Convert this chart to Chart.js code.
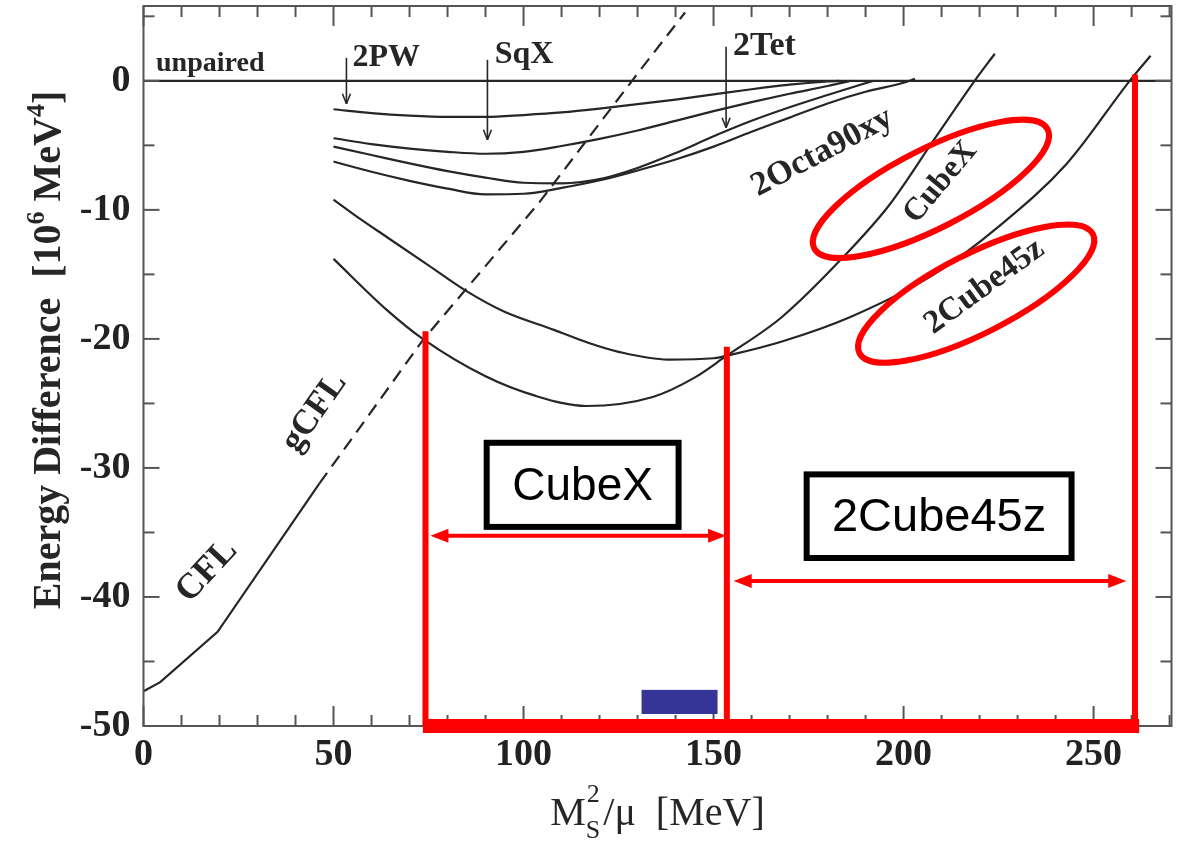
<!DOCTYPE html>
<html>
<head>
<meta charset="utf-8">
<script src="https://cdn.jsdelivr.net/npm/chart.js@4.4.1/dist/chart.umd.min.js"></script>
<style>
  html, body { margin: 0; padding: 0; background: #fff; }
</style>
</head>
<body>
<canvas id="grafico" width="1181" height="841"></canvas>
<script>
// valores: x em MeV (M_s^2/mu), y em 10^6 MeV^4
const unpairedX = [0, 270.5];
const unpairedY = [0, 0];

const cflX = [0, 4.4, 19.5, 46.3];
const cflY = [-47.3, -46.6, -42.7, -31.2];

const gcflX = [46.3, 73.5, 104.2, 130.1, 142.5];
const gcflY = [-31.2, -20.1, -9.4, 0.6, 5.3];

const pw2X = [50, 60, 70, 80, 90, 100, 110, 120, 130, 140, 150, 160, 170, 180, 183];
const pw2Y = [-2.2, -2.5, -2.7, -2.8, -2.8, -2.65, -2.45, -2.15, -1.8, -1.45, -1.05, -0.65, -0.3, -0.05, 0];

const sqxX = [50, 60, 70, 80, 90, 100, 110, 120, 130, 140, 150, 160, 170, 180, 186];
const sqxY = [-4.45, -4.9, -5.25, -5.5, -5.65, -5.5, -5.05, -4.5, -3.85, -3.1, -2.35, -1.65, -1.0, -0.4, 0];

const tetX = [50, 60, 70, 80, 90, 100, 110, 121, 130, 140, 150, 160, 170, 180, 192];
const tetY = [-5.1, -5.75, -6.4, -7.0, -7.5, -7.9, -7.95, -7.55, -6.75, -5.6, -4.3, -3.1, -2.05, -1.1, 0];

const octaX = [50, 60, 70, 80, 90, 100, 110, 121, 130, 140, 150, 160, 170, 180, 190, 200, 203];
const octaY = [-6.25, -7.05, -7.75, -8.35, -8.8, -8.75, -8.3, -7.65, -6.95, -6.1, -5.1, -3.95, -2.85, -1.75, -0.85, -0.15, 0.15];

const cube45X = [50, 57, 64, 75, 85, 95, 108, 117, 125, 138, 150, 155, 168, 186, 208, 225, 243, 259.5, 265];
const cube45Y = [-9.2, -10.7, -12.1, -14.3, -16.3, -17.9, -19.3, -20.3, -21.0, -21.6, -21.5, -21.2, -20.2, -18.3, -15.0, -11.3, -6.4, 0, 1.95];

const cubeXX = [50, 64, 73.5, 90, 103, 116.5, 134, 145, 153, 168, 184, 196.3, 207.7, 218.7, 224];
const cubeXY = [-13.8, -17.75, -20.0, -22.9, -24.4, -25.2, -24.5, -23.0, -21.4, -18.3, -13.7, -9.6, -4.7, 0, 2.1];

// eixos
const ticksX = [0, 50, 100, 150, 200, 250];
const menoresX = [10, 20, 30, 40, 60, 70, 80, 90, 110, 120, 130, 140, 160, 170, 180, 190, 210, 220, 230, 240, 260, 270];
const ticksY = [-50, -40, -30, -20, -10, 0];
const menoresY = [-45, -35, -25, -15, -5, 5];

// marcas em vermelho (anotacao por cima do grafico)
const linhasVermX = [74.2, 153.5, 260.9];
const linhasVermTopo = [-19.4, -20.6, 0.5];
const setaCubeX = [75.5, 153.3, -35.25];
const setaCube45 = [155.3, 258.6, -38.76];

const cor = "#262626";
const fonteSerif = '"Liberation Serif", "DejaVu Serif", serif';

function serie(xs, ys) {
  return xs.map((x, i) => ({ x: x, y: ys[i] }));
}

function curva(xs, ys, extra) {
  return Object.assign({
    data: serie(xs, ys),
    borderColor: cor,
    borderWidth: 2.2,
    pointRadius: 0,
    cubicInterpolationMode: "monotone",
    fill: false
  }, extra || {});
}

function texto(ctx, str, x, y, ang, tam, alinhar) {
  ctx.save();
  ctx.translate(x, y);
  ctx.rotate(ang * Math.PI / 180);
  ctx.font = "bold " + tam + "px " + fonteSerif;
  ctx.fillStyle = cor;
  ctx.textAlign = alinhar || "center";
  ctx.textBaseline = alinhar ? "alphabetic" : "middle";
  ctx.fillText(str, 0, 0);
  ctx.restore();
}

function linha(ctx, x1, y1, x2, y2) {
  ctx.beginPath();
  ctx.moveTo(x1, y1);
  ctx.lineTo(x2, y2);
  ctx.stroke();
}

function setaPreta(ctx, x, y1, y2) {
  linha(ctx, x, y1, x, y2);
  linha(ctx, x - 4, y2 - 10, x, y2);
  linha(ctx, x + 4, y2 - 10, x, y2);
}

function setaDupla(ctx, x1, x2, y) {
  ctx.lineWidth = 4;
  linha(ctx, x1 + 14, y, x2 - 14, y);
  ctx.beginPath();
  ctx.moveTo(x1, y); ctx.lineTo(x1 + 18, y - 7); ctx.lineTo(x1 + 18, y + 7); ctx.closePath();
  ctx.moveTo(x2, y); ctx.lineTo(x2 - 18, y - 7); ctx.lineTo(x2 - 18, y + 7); ctx.closePath();
  ctx.fill();
}

function caixa(ctx, x1, y1, x2, y2, str, tam) {
  ctx.fillStyle = "#fff";
  ctx.fillRect(x1, y1, x2 - x1, y2 - y1);
  ctx.strokeStyle = "#000";
  ctx.lineWidth = 6;
  ctx.strokeRect(x1, y1, x2 - x1, y2 - y1);
  ctx.fillStyle = "#000";
  ctx.font = tam + 'px "Liberation Sans", Arial, sans-serif';
  ctx.textAlign = "center";
  ctx.textBaseline = "middle";
  ctx.fillText(str, (x1 + x2) / 2, (y1 + y2) / 2 + 2);
}

function elipse(ctx, cx, cy) {
  ctx.beginPath();
  ctx.ellipse(cx, cy, 131, 39.5, -27 * Math.PI / 180, 0, 2 * Math.PI);
  ctx.stroke();
}

const anotacoes = {
  id: "anotacoes",
  afterDatasetsDraw(chart) {
    const ctx = chart.ctx;
    const a = chart.chartArea;
    const px = v => chart.scales.x.getPixelForValue(v);
    const py = v => chart.scales.y.getPixelForValue(v);
    ctx.save();

    // moldura e marcas para dentro, nos quatro lados
    ctx.strokeStyle = "#555";
    ctx.lineWidth = 2;
    ctx.strokeRect(a.left, a.top, a.right - a.left, a.bottom - a.top);
    ticksX.concat(menoresX).forEach(v => {
      const p = px(v);
      const t = ticksX.includes(v) ? 20 : 11;
      linha(ctx, p, a.bottom, p, a.bottom - t);
      linha(ctx, p, a.top, p, a.top + t);
    });
    ticksY.concat(menoresY).forEach(v => {
      const p = py(v);
      const t = ticksY.includes(v) ? 16 : 11;
      linha(ctx, a.left, p, a.left + t, p);
      linha(ctx, a.right, p, a.right - t, p);
    });

    // rotulos das curvas
    texto(ctx, "unpaired", px(3.3), py(0.78), 0, 28, "left");
    texto(ctx, "2PW", px(55), py(1.16), 0, 32, "left");
    texto(ctx, "SqX", px(92.4), py(1.4), 0, 32, "left");
    texto(ctx, "2Tet", px(155.1), py(2.0), 0, 34, "left");
    texto(ctx, "CFL", px(16.7), py(-38.0), -47, 36);
    texto(ctx, "gCFL", px(45.0), py(-25.7), -55, 35);
    texto(ctx, "2Octa90xy", px(178.6), py(-5.54), -28, 34);
    texto(ctx, "CubeX", px(209.7), py(-7.87), -50, 32);
    texto(ctx, "2Cube45z", px(221.3), py(-15.95), -36, 33);

    ctx.strokeStyle = cor;
    ctx.lineWidth = 1.6;
    setaPreta(ctx, px(53.4), py(1.78), py(-1.78));
    setaPreta(ctx, px(90.5), py(1.63), py(-4.57));
    setaPreta(ctx, px(153.3), py(2.64), py(-3.64));

    // anotacoes vermelhas
    ctx.strokeStyle = "#ff0000";
    ctx.fillStyle = "#ff0000";
    ctx.lineWidth = 6;
    linhasVermX.forEach((v, i) => linha(ctx, px(v), py(linhasVermTopo[i]), px(v), py(-50)));
    ctx.fillRect(px(74.3) - 3, py(-50) - 7, px(261.2) - px(74.3) + 6, 14);
    setaDupla(ctx, px(setaCubeX[0]), px(setaCubeX[1]), py(setaCubeX[2]));
    setaDupla(ctx, px(setaCube45[0]), px(setaCube45[1]), py(setaCube45[2]));
    ctx.lineWidth = 6;
    elipse(ctx, px(207.2), py(-8.37));
    elipse(ctx, px(219.1), py(-16.49));

    caixa(ctx, px(90.3), py(-28.05), px(140.8), py(-34.57), "CubeX", 46);
    caixa(ctx, px(174.5), py(-30.5), px(244.2), py(-36.98), "2Cube45z", 47);

    ctx.fillStyle = "#353597";
    ctx.fillRect(px(131.05), py(-47.2), px(151.05) - px(131.05), py(-49.07) - py(-47.2));

    ctx.restore();
  },
  afterDraw(chart) {
    const ctx = chart.ctx;
    const a = chart.chartArea;
    ctx.save();
    ctx.fillStyle = cor;
    ctx.textBaseline = "alphabetic";
    ctx.textAlign = "left";

    // titulo do eixo x: M_S^2/mu [MeV]
    const f40 = "40px " + fonteSerif;
    const f26 = "26px " + fonteSerif;
    ctx.font = f40;
    const wM = ctx.measureText("M").width;
    const resto = "/\u03bc  [MeV]";
    const wR = ctx.measureText(resto).width;
    ctx.font = f26;
    const wS = ctx.measureText("S").width + 3;
    let x0 = (a.left + a.right) / 2 - (wM + wS + wR) / 2;
    ctx.font = f40;
    ctx.fillText("M", x0, 825);
    ctx.font = f26;
    ctx.fillText("S", x0 + wM, 838);
    ctx.fillText("2", x0 + wM + 1, 802);
    ctx.font = f40;
    ctx.fillText(resto, x0 + wM + wS, 825);

    // titulo do eixo y: Energy Difference [10^6 MeV^4]
    const b40 = "bold 40px " + fonteSerif;
    const b26 = "bold 26px " + fonteSerif;
    const partes = [
      ["Energy Difference  [10", b40, 0],
      ["6", b26, -16],
      [" MeV", b40, 0],
      ["4", b26, -16],
      ["]", b40, 0]
    ];
    let total = 0;
    partes.forEach(p => { ctx.font = p[1]; total += ctx.measureText(p[0]).width; });
    ctx.translate(60, 350);
    ctx.rotate(-Math.PI / 2);
    let pos = -total / 2;
    partes.forEach(p => {
      ctx.font = p[1];
      ctx.fillText(p[0], pos, p[2]);
      pos += ctx.measureText(p[0]).width;
    });
    ctx.restore();
  }
};

new Chart(document.getElementById("grafico").getContext("2d"), {
  type: "line",
  data: {
    datasets: [
      curva(unpairedX, unpairedY, { cubicInterpolationMode: "default", tension: 0 }),
      curva(cflX, cflY, { cubicInterpolationMode: "default", tension: 0 }),
      curva(gcflX, gcflY, { cubicInterpolationMode: "default", tension: 0, borderDash: [13, 8] }),
      curva(pw2X, pw2Y),
      curva(sqxX, sqxY),
      curva(tetX, tetY),
      curva(octaX, octaY),
      curva(cube45X, cube45Y),
      curva(cubeXX, cubeXY)
    ]
  },
  options: {
    responsive: false,
    animation: false,
    devicePixelRatio: 1,
    layout: { padding: { left: 0, right: 9.5, top: 6, bottom: 0 } },
    plugins: {
      legend: { display: false },
      title: { display: false },
      tooltip: { enabled: false }
    },
    scales: {
      x: {
        type: "linear",
        min: 0,
        max: 270.5,
        grid: { display: false, drawTicks: false },
        border: { display: false },
        afterBuildTicks: s => { s.ticks = ticksX.map(v => ({ value: v })); },
        afterFit: s => { s.height = 115; s.paddingLeft = 0; s.paddingRight = 0; },
        ticks: {
          padding: 6,
          maxRotation: 0,
          color: "#222",
          font: { family: fonteSerif, size: 38, weight: "bold" }
        }
      },
      y: {
        type: "linear",
        min: -50,
        max: 5.8,
        grid: { display: false, drawTicks: false },
        border: { display: false },
        afterBuildTicks: s => { s.ticks = ticksY.map(v => ({ value: v })); },
        afterFit: s => { s.width = 143.5; s.paddingTop = 0; s.paddingBottom = 0; },
        ticks: {
          padding: 13,
          color: "#222",
          font: { family: fonteSerif, size: 38, weight: "bold" }
        }
      }
    }
  },
  plugins: [anotacoes]
});
</script>
</body>
</html>
